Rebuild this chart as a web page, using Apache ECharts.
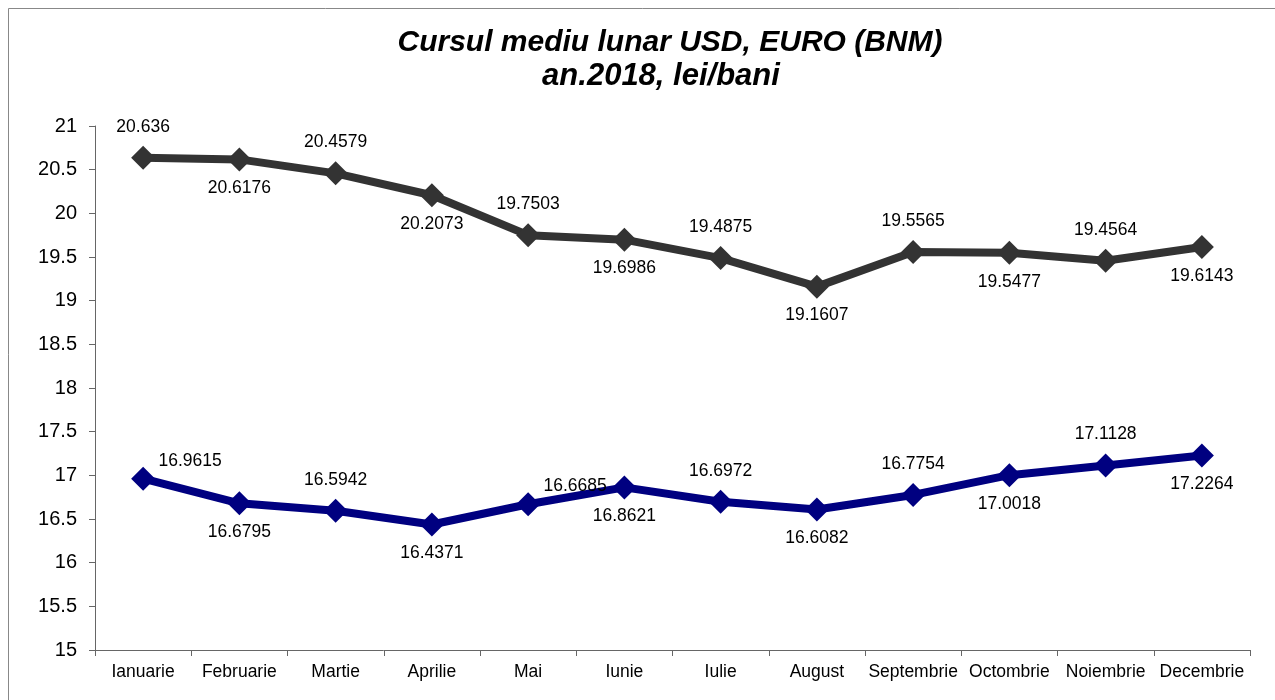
<!DOCTYPE html>
<html>
<head>
<meta charset="utf-8">
<script src="https://cdn.jsdelivr.net/npm/echarts@6/dist/echarts.min.js"></script>
<style>
  html, body { margin: 0; padding: 0; background: #fff; }
  #chart { width: 1275px; height: 700px; }
</style>
</head>
<body>
<div id="chart"></div>
<script>
var months = ['Ianuarie', 'Februarie', 'Martie', 'Aprilie', 'Mai', 'Iunie', 'Iulie', 'August', 'Septembrie', 'Octombrie', 'Noiembrie', 'Decembrie'];
var euro = [20.636, 20.6176, 20.4579, 20.2073, 19.7503, 19.6986, 19.4875, 19.1607, 19.5565, 19.5477, 19.4564, 19.6143];
var usd = [16.9615, 16.6795, 16.5942, 16.4371, 16.6685, 16.8621, 16.6972, 16.6082, 16.7754, 17.0018, 17.1128, 17.2264];
// label placement: t = above, b = below, r = above-right
var euroPos = ['t', 'b', 't', 'b', 't', 'b', 't', 'b', 't', 'b', 't', 'b'];
var usdPos = ['r', 'b', 't', 'b', 'r', 'b', 't', 'b', 't', 'b', 't', 'b'];
var titleLines = ['Cursul mediu lunar USD, EURO (BNM)', 'an.2018, lei/bani'];

var font = 'Liberation Sans, Arial, sans-serif';

function buildData(values, pos) {
  return values.map(function (v, i) {
    var p = pos[i];
    var label;
    if (p === 't') label = { position: 'top', distance: 10 };
    else if (p === 'b') label = { position: 'bottom', distance: 8 };
    else label = { position: 'top', distance: 0, offset: [47, 3] };
    return { value: v, label: label };
  });
}

var labelCommon = {
  show: true,
  color: '#000',
  fontSize: 17.5,
  fontFamily: font
};

function titleText(str, x, y, size) {
  return {
    type: 'text',
    x: x,
    y: y,
    silent: true,
    style: {
      text: str,
      fill: '#000',
      font: 'italic bold ' + size + 'px ' + font,
      textAlign: 'center',
      textVerticalAlign: 'middle'
    }
  };
}

var chart = echarts.init(document.getElementById('chart'));
chart.setOption({
  backgroundColor: '#fff',
  animation: false,
  graphic: [
    {
      type: 'rect',
      shape: { x: 8.5, y: 8.5, width: 1280, height: 700 },
      style: { fill: 'none', stroke: '#888', lineWidth: 1 },
      silent: true
    },
    titleText(titleLines[0], 670, 43, 30),
    titleText(titleLines[1], 661, 76, 31)
  ],
  grid: { left: 95, right: 25, top: 126, bottom: 50 },
  xAxis: {
    type: 'category',
    data: months,
    boundaryGap: true,
    axisLine: { lineStyle: { color: '#666', width: 1 } },
    axisTick: { show: true, length: 6, lineStyle: { color: '#666' } },
    axisLabel: { color: '#000', fontSize: 17.5, fontFamily: font, margin: 13, interval: 0 },
    splitLine: { show: false }
  },
  yAxis: {
    type: 'value',
    min: 15,
    max: 21,
    interval: 0.5,
    axisLine: { show: true, lineStyle: { color: '#666', width: 1 } },
    axisTick: { show: true, length: 6, lineStyle: { color: '#666' } },
    axisLabel: { color: '#000', fontSize: 20, fontFamily: font, margin: 18 },
    splitLine: { show: false }
  },
  series: [
    {
      name: 'EURO',
      type: 'line',
      data: buildData(euro, euroPos),
      symbol: 'diamond',
      symbolSize: 24,
      lineStyle: { color: '#333333', width: 8 },
      itemStyle: { color: '#333333' },
      label: labelCommon
    },
    {
      name: 'USD',
      type: 'line',
      data: buildData(usd, usdPos),
      symbol: 'diamond',
      symbolSize: 24,
      lineStyle: { color: '#000080', width: 8 },
      itemStyle: { color: '#000080' },
      label: labelCommon
    }
  ]
});
</script>
</body>
</html>
